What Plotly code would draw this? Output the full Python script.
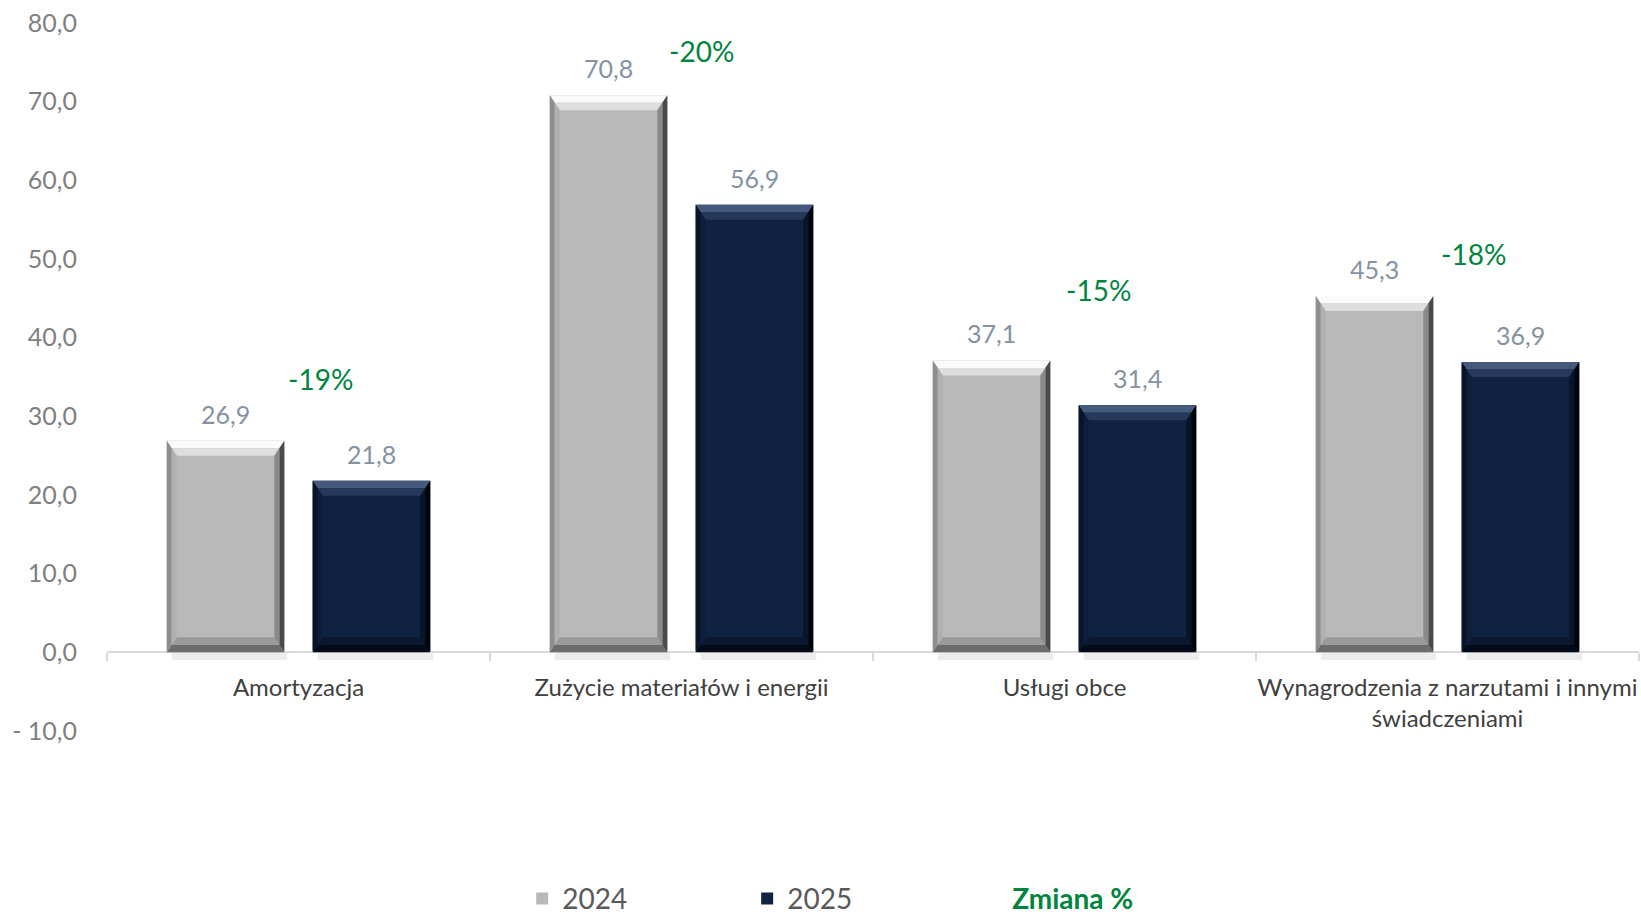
import plotly.graph_objects as go

# ---------------- data ----------------
categories = ["Amortyzacja", "Zużycie materiałów i energii", "Usługi obce",
              "Wynagrodzenia z narzutami i innymi<br>świadczeniami"]
values_2024 = [26.9, 70.8, 37.1, 45.3]
values_2025 = [21.8, 56.9, 31.4, 36.9]
change_pct = [-19, -20, -15, -18]
series_names = ["2024", "2025", "Zmiana %"]
y_tick_values = [-10, 0, 10, 20, 30, 40, 50, 60, 70, 80]

# ---------------- layout / style ----------------
pct_label_y = [34.8, 76.4, 46.1, 50.6]        # label placement (axis units)
pct_label_xshift = [22, 20, 34, 26]            # pixels
BAR_W = 0.307
OFFSETS = [-0.344, 0.037]
FONT = "Lato"
GRAY, NAVY = "#b9b9b9", "#0f2241"
GREEN = "#00853f"


def fmt(v):
    s = f"{abs(v):.1f}".replace(".", ",")
    return ("- " + s) if v < 0 else s


fig = go.Figure()
fig.add_trace(go.Bar(x=categories, y=values_2024, name=series_names[0],
                     width=BAR_W, offset=OFFSETS[0],
                     marker=dict(color=GRAY, line=dict(width=0))))
fig.add_trace(go.Bar(x=categories, y=values_2025, name=series_names[1],
                     width=BAR_W, offset=OFFSETS[1],
                     marker=dict(color=NAVY, line=dict(width=0))))
fig.add_trace(go.Scatter(x=[None], y=[None], mode="lines",
                         line=dict(color="rgba(0,0,0,0)", width=0),
                         name=f"<b><span style='color:{GREEN}'>{series_names[2]}</span></b>"))

# bevel effect (computed from the data values)
DX = 10 / 383.0
DY = 15 / 7.87
bevel = {
    GRAY: dict(top=["#fafafa", "#dedede"], left=["#8e8e8e", "#b0b0b0"],
               right=["#4a4a4a", "#8a8a8a"], bottom=["#6c6c6c", "#9a9a9a"]),
    NAVY: dict(top=["#44597c", "#26395b"], left=["#07142a", "#0d1f3b"],
               right=["#01040a", "#081428"], bottom=["#040b18", "#0a1830"]),
}
shapes = []
for vals, off, col in [(values_2024, OFFSETS[0], GRAY), (values_2025, OFFSETS[1], NAVY)]:
    for i, v in enumerate(vals):
        x0, x1 = i + off, i + off + BAR_W
        c = bevel[col]
        # soft shadow below the bar
        shapes.append(dict(type="rect", xref="x", yref="y", x0=x0 + DX * 0.5, x1=x1 + DX * 0.3,
                           y0=-1.0, y1=0, fillcolor="rgba(0,0,0,0.07)",
                           line=dict(width=0), layer="below"))
        for k, (t0, t1) in enumerate([(0, 0.5), (0.5, 1.0)]):
            a0x, a1x = DX * t0, DX * t1
            a0y, a1y = DY * t0, DY * t1
            polys = [
                (c["top"][k], [(x0 + a0x, v - a0y), (x1 - a0x, v - a0y),
                               (x1 - a1x, v - a1y), (x0 + a1x, v - a1y)]),
                (c["bottom"][k], [(x0 + a0x, a0y), (x1 - a0x, a0y),
                                  (x1 - a1x, a1y), (x0 + a1x, a1y)]),
                (c["left"][k], [(x0 + a0x, a0y), (x0 + a0x, v - a0y),
                                (x0 + a1x, v - a1y), (x0 + a1x, a1y)]),
                (c["right"][k], [(x1 - a0x, a0y), (x1 - a0x, v - a0y),
                                 (x1 - a1x, v - a1y), (x1 - a1x, a1y)]),
            ]
            for color, pts in polys:
                path = "M " + " L ".join(f"{px},{py}" for px, py in pts) + " Z"
                shapes.append(dict(type="path", path=path, xref="x", yref="y",
                                   fillcolor=color, line=dict(width=0), layer="above"))

annotations = []
for vals, off in [(values_2024, OFFSETS[0]), (values_2025, OFFSETS[1])]:
    for i, v in enumerate(vals):
        annotations.append(dict(x=i + off + BAR_W / 2, y=v, xref="x", yref="y",
                                text=fmt(v), showarrow=False, yshift=27,
                                font=dict(family=FONT, size=25, color="#8592a3")))
for i, p in enumerate(change_pct):
    annotations.append(dict(x=i, y=pct_label_y[i], xref="x", yref="y",
                            text=f"{p}%", showarrow=False, xshift=pct_label_xshift[i],
                            font=dict(family=FONT, size=28, color=GREEN)))

fig.update_layout(
    width=1641, height=919,
    margin=dict(l=107, r=2, t=23, b=188),
    paper_bgcolor="white", plot_bgcolor="white",
    barmode="overlay",
    font=dict(family=FONT),
    showlegend=True,
    legend=dict(orientation="h", x=0.271, xanchor="left",
                yref="container", y=0.022, yanchor="middle",
                entrywidth=180, entrywidthmode="pixels",
                font=dict(family=FONT, size=28, color="#595959"),
                bgcolor="rgba(0,0,0,0)"),
    xaxis=dict(type="category", range=[-0.5, 3.5], anchor="free", position=10 / 90,
               showline=True, linecolor="#d9d9d9", linewidth=2,
               ticks="outside", tickson="boundaries", ticklen=8, tickcolor="#d9d9d9",
               tickwidth=2, showgrid=False, automargin=False, tickangle=0,
               ticklabelstandoff=14,
               tickfont=dict(family=FONT, size=24, color="#404040")),
    yaxis=dict(range=[-10, 80], tickvals=y_tick_values,
               ticktext=[fmt(v) for v in y_tick_values],
               showgrid=False, zeroline=False, showline=False, automargin=False,
               ticklabelstandoff=29,
               tickfont=dict(family=FONT, size=25, color="#7f7f7f")),
    shapes=shapes,
    annotations=annotations,
)

fig.write_html("out.html", config={"displayModeBar": False},
               post_script="document.body.style.margin='0';")
